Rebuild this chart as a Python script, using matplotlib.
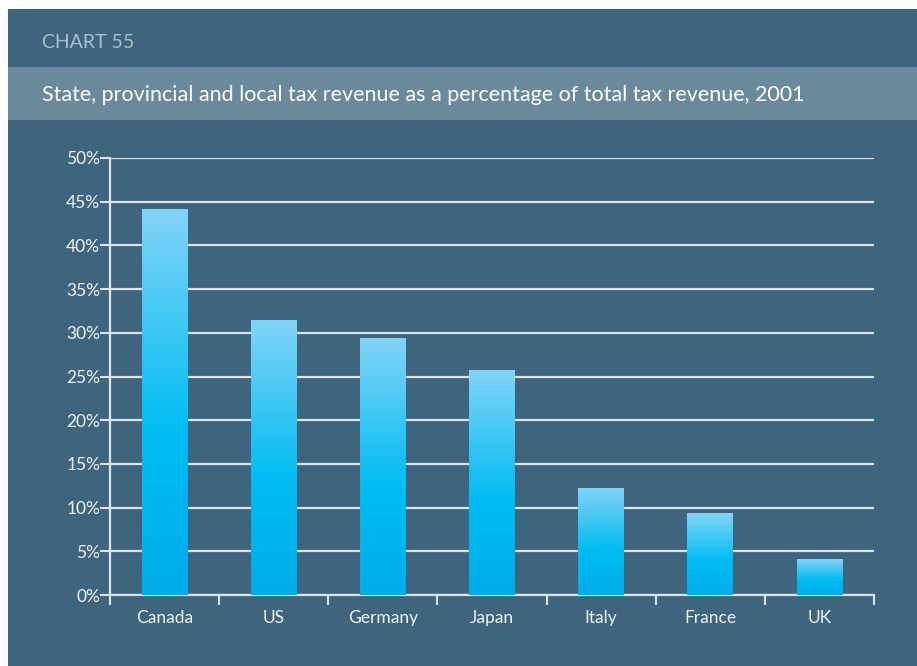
import matplotlib
matplotlib.use("Agg")
from matplotlib import pyplot as plt
from matplotlib.colors import LinearSegmentedColormap
from matplotlib.patches import Rectangle
import numpy as np

countries = ["Canada", "US", "Germany", "Japan", "Italy", "France", "UK"]
share = [44.1, 31.4, 29.3, 25.7, 12.2, 9.3, 4.1]
yticks = [0, 5, 10, 15, 20, 25, 30, 35, 40, 45, 50]
ytick_labels = [f"{t}%" for t in yticks]

chart_no = "CHART 55"
title = "State, provincial and local tax revenue as a percentage of total tax revenue, 2001"

bg = "#3e657d"
band = "#6a8a9c"
grid_col = "#dde4e8"
text_col = "#eef2f4"

plt.rcParams['font.family'] = ['Lato', 'DejaVu Sans']

W, H = 917, 666
fig = plt.figure(figsize=(W / 100, H / 100), dpi=100)
fig.patch.set_facecolor("white")

# background panel lives in its own axes underneath everything
bgax = fig.add_axes([0, 0, 1, 1], zorder=-1)
bgax.set_xlim(0, W)
bgax.set_ylim(H, 0)
bgax.axis("off")
bgax.add_patch(Rectangle((8, 9), W - 8, H - 9, facecolor=bg, edgecolor="none"))
bgax.add_patch(Rectangle((8, 67), W - 8, 53, facecolor=band, edgecolor="none"))
bgax.text(42, 42, chart_no, color="#a9bfcb", fontsize=14, va="center", ha="left")
bgax.text(42, 95, title, color="white", fontsize=15.5, va="center", ha="left")

ax = fig.add_axes([110 / W, 71 / H, (874 - 110) / W, (595 - 158) / H], zorder=1)
ax.set_facecolor("none")

cmap = LinearSegmentedColormap.from_list("barfade", [(0.0, "#00acea"), (0.42, "#00bcf2"), (1.0, "#82d4f7")])
grad = np.linspace(0, 1, 256).reshape(-1, 1)

x = np.arange(len(countries))
bw = 0.42
bars = ax.bar(x, share, width=bw, color="none", edgecolor="none", zorder=3)
for b in bars:
    x0 = b.get_x()
    h = b.get_height()
    ax.imshow(grad, extent=[x0, x0 + bw, 0, h], origin="lower", aspect="auto",
              cmap=cmap, zorder=3, interpolation="bicubic")

ax.set_xlim(-0.5, len(countries) - 0.5)
ax.set_ylim(0, 50)
ax.set_yticks(yticks)
ax.set_yticklabels(ytick_labels)
ax.yaxis.grid(True, color=grid_col, linewidth=1.6, zorder=1)
ax.set_axisbelow(True)

ax.set_xticks(x)
ax.set_xticklabels(countries)
ax.set_xticks(np.arange(-0.5, len(countries)), minor=True)
ax.tick_params(axis="x", which="major", length=0, pad=11, labelsize=12.5, labelcolor=text_col)
ax.tick_params(axis="x", which="minor", length=7, width=1.5, color=grid_col, direction="out")
ax.tick_params(axis="y", length=7, width=1.5, color=grid_col, pad=0, labelsize=12.5, labelcolor=text_col)

for s in ["top", "right"]:
    ax.spines[s].set_visible(False)
for s in ["left", "bottom"]:
    ax.spines[s].set_color(grid_col)
    ax.spines[s].set_linewidth(1.6)

fig.savefig("out.png", dpi=100, facecolor=fig.get_facecolor())
